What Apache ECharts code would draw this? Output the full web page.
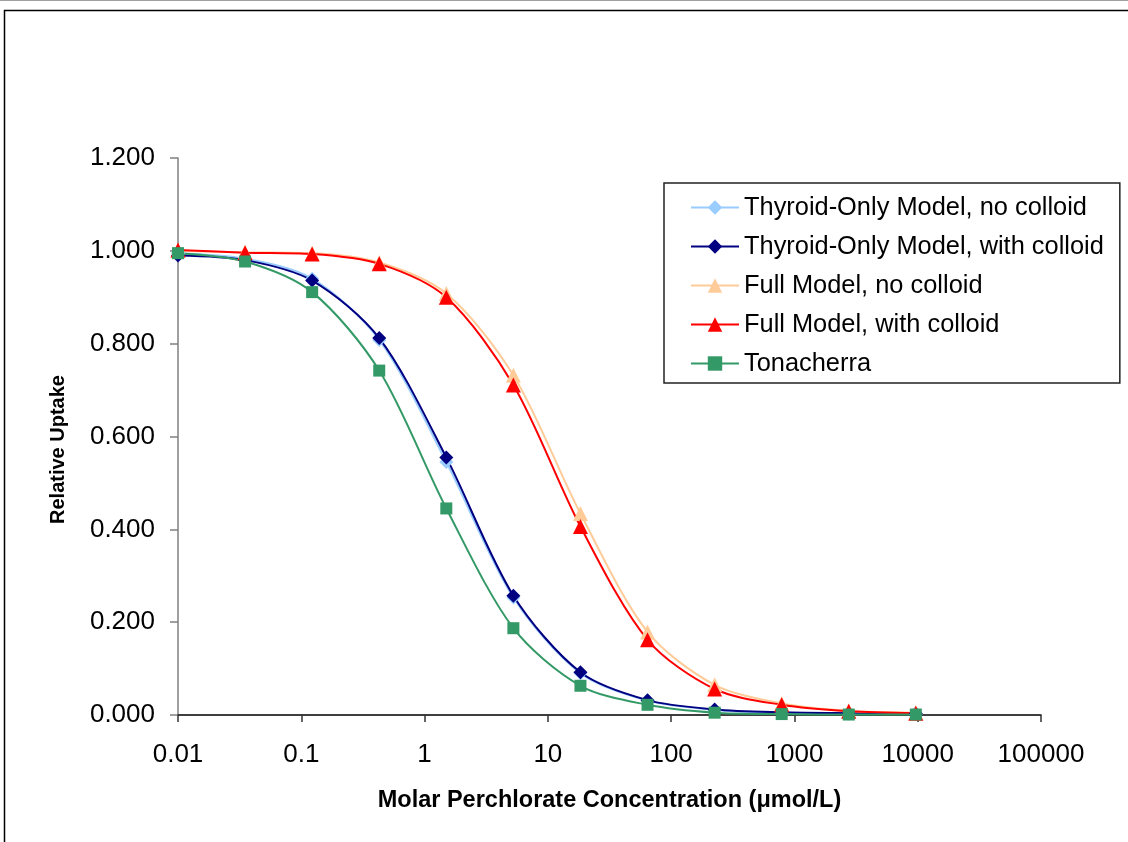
<!DOCTYPE html>
<html>
<head>
<meta charset="utf-8">
<script src="https://cdn.jsdelivr.net/npm/echarts@6/dist/echarts.min.js"></script>
<style>
  html, body { margin: 0; padding: 0; background: #fff; }
  #chart { width: 1128px; height: 842px; }
</style>
</head>
<body>
<div id="chart"></div>
<script>
// Perchlorate concentration (µmol/L) at each simulated point
const concentrations = [0.01, 0.035, 0.1225, 0.4288, 1.501, 5.252, 18.38, 64.34, 225.2, 788.2, 2759, 9655];

// Relative iodide uptake for each model run
const thyroidNoColloid   = [0.995, 0.983, 0.940, 0.808, 0.545, 0.253, 0.090, 0.031, 0.011, 0.005, 0.003, 0.002];
const thyroidWithColloid = [0.990, 0.980, 0.936, 0.812, 0.555, 0.257, 0.092, 0.032, 0.012, 0.006, 0.004, 0.003];
const fullNoColloid      = [1.000, 0.997, 0.995, 0.975, 0.908, 0.732, 0.434, 0.179, 0.065, 0.025, 0.009, 0.005];
const fullWithColloid    = [1.002, 0.996, 0.993, 0.972, 0.900, 0.711, 0.406, 0.162, 0.056, 0.022, 0.008, 0.004];
const tonacherra         = [0.995, 0.977, 0.911, 0.742, 0.445, 0.187, 0.063, 0.022, 0.005, 0.002, 0.001, 0.001];

// Axis tick labels
const xTickLabels = ['0.01', '0.1', '1', '10', '100', '1000', '10000', '100000'];
const yTickLabels = ['0.000', '0.200', '0.400', '0.600', '0.800', '1.000', '1.200'];

const FONT = 'Arial, "Liberation Sans", sans-serif';

function pairs(ys) {
  return concentrations.map((x, i) => [x, ys[i]]);
}

function makeSeries(name, ys, color, symbol, size) {
  return {
    name: name,
    type: 'line',
    data: pairs(ys),
    smooth: 0.3,
    symbol: symbol,
    symbolSize: size,
    showAllSymbol: true,
    lineStyle: { color: color, width: 2 },
    itemStyle: { color: color, borderWidth: 0 },
    emphasis: { disabled: true },
    animation: false
  };
}

const chart = echarts.init(document.getElementById('chart'), null, { renderer: 'canvas' });

chart.setOption({
  backgroundColor: '#ffffff',
  animation: false,
  grid: { left: 178, right: 87, top: 158, bottom: 127, containLabel: false },
  xAxis: {
    type: 'log',
    logBase: 10,
    min: 0.01,
    max: 100000,
    name: 'Molar Perchlorate Concentration (μmol/L)',
    nameLocation: 'middle',
    nameGap: 74,
    nameTextStyle: { fontFamily: FONT, fontSize: 23.5, fontWeight: 'bold', color: '#000' },
    axisLine: { show: true, lineStyle: { color: '#000', width: 1.5 } },
    axisTick: { show: true, inside: false, length: 7, lineStyle: { color: '#333', width: 1.5 } },
    minorTick: { show: false },
    splitLine: { show: false },
    axisLabel: {
      fontFamily: FONT, fontSize: 26, color: '#000', margin: 27,
      formatter: function (v) {
        const idx = Math.round(Math.log10(v) + 2);
        return xTickLabels[idx] !== undefined ? xTickLabels[idx] : '';
      }
    }
  },
  yAxis: {
    type: 'value',
    min: 0,
    max: 1.2,
    interval: 0.2,
    name: 'Relative Uptake',
    nameLocation: 'middle',
    nameGap: 110,
    nameRotate: 90,
    nameTextStyle: {
      fontFamily: FONT, fontSize: 20, fontWeight: 'bold', color: '#000',
      padding: [0, 26, 0, 0]
    },
    axisLine: { show: true, lineStyle: { color: '#808080', width: 1.5 } },
    axisTick: { show: true, inside: false, length: 8, lineStyle: { color: '#808080', width: 1.5 } },
    splitLine: { show: false },
    axisLabel: {
      fontFamily: FONT, fontSize: 26, color: '#000', margin: 23,
      formatter: function (v) {
        const idx = Math.round(v / 0.2);
        return yTickLabels[idx] !== undefined ? yTickLabels[idx] : '';
      }
    }
  },
  legend: {
    orient: 'vertical',
    left: 664,
    top: 183,
    padding: [12, 16, 7, 26],
    itemWidth: 48,
    itemHeight: 18,
    itemGap: 14,
    borderColor: '#222',
    borderWidth: 1.5,
    backgroundColor: '#fff',
    textStyle: { fontFamily: FONT, fontSize: 25.4, color: '#000' },
    selectedMode: false,
    data: [
      'Thyroid-Only Model, no colloid',
      'Thyroid-Only Model, with colloid',
      'Full Model, no colloid',
      'Full Model, with colloid',
      'Tonacherra'
    ]
  },
  graphic: [
    {
      type: 'line',
      silent: true,
      shape: { x1: 0, y1: 0.5, x2: 1128, y2: 0.5 },
      style: { stroke: '#a0a0a0', lineWidth: 1 }
    },
    {
      type: 'rect',
      silent: true,
      shape: { x: 4.5, y: 10.5, width: 1200, height: 900 },
      style: { fill: 'none', stroke: '#000', lineWidth: 1.5 }
    }
  ],
  series: [
    makeSeries('Thyroid-Only Model, no colloid', thyroidNoColloid, '#99CCFF', 'diamond', 14),
    makeSeries('Thyroid-Only Model, with colloid', thyroidWithColloid, '#000080', 'diamond', 14),
    makeSeries('Full Model, no colloid', fullNoColloid, '#FFCC99', 'triangle', 15),
    makeSeries('Full Model, with colloid', fullWithColloid, '#FF0000', 'triangle', 15),
    makeSeries('Tonacherra', tonacherra, '#339966', 'rect', 12)
  ]
});
</script>
</body>
</html>
